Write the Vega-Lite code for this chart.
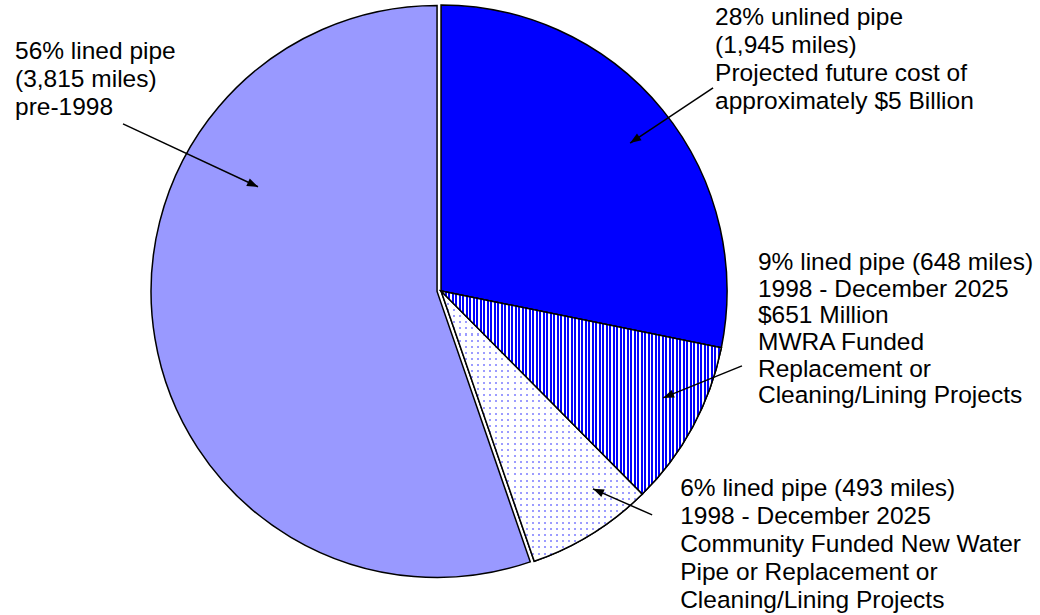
{
  "$schema": "https://vega.github.io/schema/vega-lite/v6.json",
  "width": 1040,
  "height": 615,
  "padding": 0,
  "autosize": "none",
  "background": "white",
  "config": {"view": {"stroke": null}},
  "datasets": {
    "slices": [
      {"segment": "unlined", "miles": 1945, "order": 1},
      {"segment": "mwra", "miles": 648, "order": 2},
      {"segment": "community", "miles": 493, "order": 3},
      {"segment": "pre1998", "miles": 3815, "order": 4}
    ],
    "labels": [
      {"lines": ["28% unlined pipe", "(1,945 miles)", "Projected future cost of", "approximately $5 Billion"], "x": 0.958, "y": 0.930},
      {"lines": ["56% lined pipe", "(3,815 miles)", "pre-1998"], "x": -1.4895, "y": 0.811},
      {"lines": ["6% lined pipe (493 miles)", "1998 - December 2025", "Community Funded New Water", "Pipe or Replacement or", "Cleaning/Lining Projects"], "x": 0.836, "y": -0.716}
    ],
    "labels2": [
      {"lines": ["9% lined pipe (648 miles)", "1998 - December 2025", "$651 Million", "MWRA Funded", "Replacement or", "Cleaning/Lining Projects"], "x": 1.108, "y": 0.0734}
    ],
    "arrows": [
      {"x": 0.951, "y": 0.710, "x2": 0.661, "y2": 0.517},
      {"x": -1.112, "y": 0.584, "x2": -0.640, "y2": 0.364},
      {"x": 1.052, "y": -0.262, "x2": 0.776, "y2": -0.374},
      {"x": 0.738, "y": -0.783, "x2": 0.531, "y2": -0.692}
    ]
  },
  "layer": [
    {
      "data": {"name": "slices"},
      "mark": {"type": "arc", "radius": 286, "stroke": "black", "strokeWidth": 1.5},
      "encoding": {
        "theta": {"field": "miles", "type": "quantitative", "stack": true},
        "order": {"field": "order", "type": "quantitative"},
        "x": {"datum": 0, "type": "quantitative", "scale": {"domain": [-1.542, 2.094], "nice": false, "zero": false}, "axis": null},
        "y": {"datum": 0, "type": "quantitative", "scale": {"domain": [-1.133, 1.017], "nice": false, "zero": false}, "axis": null},
        "fill": {"field": "segment", "type": "nominal", "scale": {"domain": ["unlined", "mwra", "community", "pre1998"], "range": ["#0000ff", "#0000ff", "#eeeefc", "#9999ff"]}, "legend": null},
        "fillOpacity": {"condition": {"test": "datum.segment === 'pre1998'", "value": 0}, "value": 1},
        "strokeOpacity": {"condition": {"test": "datum.segment === 'pre1998'", "value": 0}, "value": 1}
      }
    },
    {
      "data": {"name": "slices"},
      "mark": {
        "type": "arc", "radius": 286, "strokeWidth": 0,
        "fill": {
          "gradient": "linear", "x1": 0, "y1": 0, "x2": 0, "y2": 1,
          "stops": [
            {"offset": 0, "color": "#9c9cff"}, {"offset": 0.0075, "color": "#9c9cff"}, {"offset": 0.0075, "color": "#fff"}, {"offset": 0.0225, "color": "#fff"},
            {"offset": 0.0225, "color": "#9c9cff"}, {"offset": 0.03, "color": "#9c9cff"}, {"offset": 0.03, "color": "#fff"}, {"offset": 0.045, "color": "#fff"},
            {"offset": 0.045, "color": "#9c9cff"}, {"offset": 0.0525, "color": "#9c9cff"}, {"offset": 0.0525, "color": "#fff"}, {"offset": 0.0675, "color": "#fff"},
            {"offset": 0.0675, "color": "#9c9cff"}, {"offset": 0.075, "color": "#9c9cff"}, {"offset": 0.075, "color": "#fff"}, {"offset": 0.09, "color": "#fff"},
            {"offset": 0.09, "color": "#9c9cff"}, {"offset": 0.0975, "color": "#9c9cff"}, {"offset": 0.0975, "color": "#fff"}, {"offset": 0.1125, "color": "#fff"},
            {"offset": 0.1125, "color": "#9c9cff"}, {"offset": 0.12, "color": "#9c9cff"}, {"offset": 0.12, "color": "#fff"}, {"offset": 0.135, "color": "#fff"},
            {"offset": 0.135, "color": "#9c9cff"}, {"offset": 0.1425, "color": "#9c9cff"}, {"offset": 0.1425, "color": "#fff"}, {"offset": 0.1575, "color": "#fff"},
            {"offset": 0.1575, "color": "#9c9cff"}, {"offset": 0.165, "color": "#9c9cff"}, {"offset": 0.165, "color": "#fff"}, {"offset": 0.18, "color": "#fff"},
            {"offset": 0.18, "color": "#9c9cff"}, {"offset": 0.1875, "color": "#9c9cff"}, {"offset": 0.1875, "color": "#fff"}, {"offset": 0.2025, "color": "#fff"},
            {"offset": 0.2025, "color": "#9c9cff"}, {"offset": 0.21, "color": "#9c9cff"}, {"offset": 0.21, "color": "#fff"}, {"offset": 0.225, "color": "#fff"},
            {"offset": 0.225, "color": "#9c9cff"}, {"offset": 0.2325, "color": "#9c9cff"}, {"offset": 0.2325, "color": "#fff"}, {"offset": 0.2475, "color": "#fff"},
            {"offset": 0.2475, "color": "#9c9cff"}, {"offset": 0.255, "color": "#9c9cff"}, {"offset": 0.255, "color": "#fff"}, {"offset": 0.27, "color": "#fff"},
            {"offset": 0.27, "color": "#9c9cff"}, {"offset": 0.2775, "color": "#9c9cff"}, {"offset": 0.2775, "color": "#fff"}, {"offset": 0.2925, "color": "#fff"},
            {"offset": 0.2925, "color": "#9c9cff"}, {"offset": 0.3, "color": "#9c9cff"}, {"offset": 0.3, "color": "#fff"}, {"offset": 0.315, "color": "#fff"},
            {"offset": 0.315, "color": "#9c9cff"}, {"offset": 0.3225, "color": "#9c9cff"}, {"offset": 0.3225, "color": "#fff"}, {"offset": 0.3375, "color": "#fff"},
            {"offset": 0.3375, "color": "#9c9cff"}, {"offset": 0.345, "color": "#9c9cff"}, {"offset": 0.345, "color": "#fff"}, {"offset": 0.36, "color": "#fff"},
            {"offset": 0.36, "color": "#9c9cff"}, {"offset": 0.3675, "color": "#9c9cff"}, {"offset": 0.3675, "color": "#fff"}, {"offset": 0.3825, "color": "#fff"},
            {"offset": 0.3825, "color": "#9c9cff"}, {"offset": 0.39, "color": "#9c9cff"}, {"offset": 0.39, "color": "#fff"}, {"offset": 0.405, "color": "#fff"},
            {"offset": 0.405, "color": "#9c9cff"}, {"offset": 0.4125, "color": "#9c9cff"}, {"offset": 0.4125, "color": "#fff"}, {"offset": 0.4275, "color": "#fff"},
            {"offset": 0.4275, "color": "#9c9cff"}, {"offset": 0.435, "color": "#9c9cff"}, {"offset": 0.435, "color": "#fff"}, {"offset": 0.45, "color": "#fff"},
            {"offset": 0.45, "color": "#9c9cff"}, {"offset": 0.4575, "color": "#9c9cff"}, {"offset": 0.4575, "color": "#fff"}, {"offset": 0.4725, "color": "#fff"},
            {"offset": 0.4725, "color": "#9c9cff"}, {"offset": 0.48, "color": "#9c9cff"}, {"offset": 0.48, "color": "#fff"}, {"offset": 0.495, "color": "#fff"},
            {"offset": 0.495, "color": "#9c9cff"}, {"offset": 0.5025, "color": "#9c9cff"}, {"offset": 0.5025, "color": "#fff"}, {"offset": 0.5175, "color": "#fff"},
            {"offset": 0.5175, "color": "#9c9cff"}, {"offset": 0.525, "color": "#9c9cff"}, {"offset": 0.525, "color": "#fff"}, {"offset": 0.54, "color": "#fff"},
            {"offset": 0.54, "color": "#9c9cff"}, {"offset": 0.5475, "color": "#9c9cff"}, {"offset": 0.5475, "color": "#fff"}, {"offset": 0.5625, "color": "#fff"},
            {"offset": 0.5625, "color": "#9c9cff"}, {"offset": 0.57, "color": "#9c9cff"}, {"offset": 0.57, "color": "#fff"}, {"offset": 0.585, "color": "#fff"},
            {"offset": 0.585, "color": "#9c9cff"}, {"offset": 0.5925, "color": "#9c9cff"}, {"offset": 0.5925, "color": "#fff"}, {"offset": 0.6075, "color": "#fff"},
            {"offset": 0.6075, "color": "#9c9cff"}, {"offset": 0.615, "color": "#9c9cff"}, {"offset": 0.615, "color": "#fff"}, {"offset": 0.63, "color": "#fff"},
            {"offset": 0.63, "color": "#9c9cff"}, {"offset": 0.6375, "color": "#9c9cff"}, {"offset": 0.6375, "color": "#fff"}, {"offset": 0.6525, "color": "#fff"},
            {"offset": 0.6525, "color": "#9c9cff"}, {"offset": 0.66, "color": "#9c9cff"}, {"offset": 0.66, "color": "#fff"}, {"offset": 0.675, "color": "#fff"},
            {"offset": 0.675, "color": "#9c9cff"}, {"offset": 0.6825, "color": "#9c9cff"}, {"offset": 0.6825, "color": "#fff"}, {"offset": 0.6975, "color": "#fff"},
            {"offset": 0.6975, "color": "#9c9cff"}, {"offset": 0.705, "color": "#9c9cff"}, {"offset": 0.705, "color": "#fff"}, {"offset": 0.72, "color": "#fff"},
            {"offset": 0.72, "color": "#9c9cff"}, {"offset": 0.7275, "color": "#9c9cff"}, {"offset": 0.7275, "color": "#fff"}, {"offset": 0.7425, "color": "#fff"},
            {"offset": 0.7425, "color": "#9c9cff"}, {"offset": 0.75, "color": "#9c9cff"}, {"offset": 0.75, "color": "#fff"}, {"offset": 0.765, "color": "#fff"},
            {"offset": 0.765, "color": "#9c9cff"}, {"offset": 0.7725, "color": "#9c9cff"}, {"offset": 0.7725, "color": "#fff"}, {"offset": 0.7875, "color": "#fff"},
            {"offset": 0.7875, "color": "#9c9cff"}, {"offset": 0.795, "color": "#9c9cff"}, {"offset": 0.795, "color": "#fff"}, {"offset": 0.81, "color": "#fff"},
            {"offset": 0.81, "color": "#9c9cff"}, {"offset": 0.8175, "color": "#9c9cff"}, {"offset": 0.8175, "color": "#fff"}, {"offset": 0.8325, "color": "#fff"},
            {"offset": 0.8325, "color": "#9c9cff"}, {"offset": 0.84, "color": "#9c9cff"}, {"offset": 0.84, "color": "#fff"}, {"offset": 0.855, "color": "#fff"},
            {"offset": 0.855, "color": "#9c9cff"}, {"offset": 0.8625, "color": "#9c9cff"}, {"offset": 0.8625, "color": "#fff"}, {"offset": 0.8775, "color": "#fff"},
            {"offset": 0.8775, "color": "#9c9cff"}, {"offset": 0.885, "color": "#9c9cff"}, {"offset": 0.885, "color": "#fff"}, {"offset": 0.9, "color": "#fff"},
            {"offset": 0.9, "color": "#9c9cff"}, {"offset": 0.9075, "color": "#9c9cff"}, {"offset": 0.9075, "color": "#fff"}, {"offset": 0.9225, "color": "#fff"},
            {"offset": 0.9225, "color": "#9c9cff"}, {"offset": 0.93, "color": "#9c9cff"}, {"offset": 0.93, "color": "#fff"}, {"offset": 0.945, "color": "#fff"},
            {"offset": 0.945, "color": "#9c9cff"}, {"offset": 0.9525, "color": "#9c9cff"}, {"offset": 0.9525, "color": "#fff"}, {"offset": 0.9675, "color": "#fff"},
            {"offset": 0.9675, "color": "#9c9cff"}, {"offset": 0.975, "color": "#9c9cff"}, {"offset": 0.975, "color": "#fff"}, {"offset": 0.99, "color": "#fff"},
            {"offset": 0.99, "color": "#9c9cff"}, {"offset": 0.9975, "color": "#9c9cff"}, {"offset": 0.9975, "color": "#fff"}, {"offset": 1, "color": "#fff"}
          ]
        }
      },
      "encoding": {
        "theta": {"field": "miles", "type": "quantitative", "stack": true},
        "order": {"field": "order", "type": "quantitative"},
        "x": {"datum": 0, "type": "quantitative", "scale": {"domain": [-1.542, 2.094], "nice": false, "zero": false}, "axis": null},
        "y": {"datum": 0, "type": "quantitative", "scale": {"domain": [-1.133, 1.017], "nice": false, "zero": false}, "axis": null},
        "fillOpacity": {"condition": {"test": "datum.segment === 'community'", "value": 1}, "value": 0}
      }
    },
    {
      "data": {"name": "slices"},
      "mark": {
        "type": "arc", "radius": 286, "stroke": "black", "strokeWidth": 1.5,
        "fill": {
          "gradient": "linear", "x1": 0, "y1": 0, "x2": 1, "y2": 0,
          "stops": [
            {"offset": 0, "color": "rgba(255,255,255,0)"}, {"offset": 0.01, "color": "rgba(255,255,255,0)"}, {"offset": 0.01, "color": "#fff"}, {"offset": 0.03, "color": "#fff"},
            {"offset": 0.03, "color": "rgba(255,255,255,0)"}, {"offset": 0.04, "color": "rgba(255,255,255,0)"}, {"offset": 0.04, "color": "#fff"}, {"offset": 0.06, "color": "#fff"},
            {"offset": 0.06, "color": "rgba(255,255,255,0)"}, {"offset": 0.07, "color": "rgba(255,255,255,0)"}, {"offset": 0.07, "color": "#fff"}, {"offset": 0.09, "color": "#fff"},
            {"offset": 0.09, "color": "rgba(255,255,255,0)"}, {"offset": 0.1, "color": "rgba(255,255,255,0)"}, {"offset": 0.1, "color": "#fff"}, {"offset": 0.12, "color": "#fff"},
            {"offset": 0.12, "color": "rgba(255,255,255,0)"}, {"offset": 0.13, "color": "rgba(255,255,255,0)"}, {"offset": 0.13, "color": "#fff"}, {"offset": 0.15, "color": "#fff"},
            {"offset": 0.15, "color": "rgba(255,255,255,0)"}, {"offset": 0.16, "color": "rgba(255,255,255,0)"}, {"offset": 0.16, "color": "#fff"}, {"offset": 0.18, "color": "#fff"},
            {"offset": 0.18, "color": "rgba(255,255,255,0)"}, {"offset": 0.19, "color": "rgba(255,255,255,0)"}, {"offset": 0.19, "color": "#fff"}, {"offset": 0.21, "color": "#fff"},
            {"offset": 0.21, "color": "rgba(255,255,255,0)"}, {"offset": 0.22, "color": "rgba(255,255,255,0)"}, {"offset": 0.22, "color": "#fff"}, {"offset": 0.24, "color": "#fff"},
            {"offset": 0.24, "color": "rgba(255,255,255,0)"}, {"offset": 0.25, "color": "rgba(255,255,255,0)"}, {"offset": 0.25, "color": "#fff"}, {"offset": 0.27, "color": "#fff"},
            {"offset": 0.27, "color": "rgba(255,255,255,0)"}, {"offset": 0.28, "color": "rgba(255,255,255,0)"}, {"offset": 0.28, "color": "#fff"}, {"offset": 0.3, "color": "#fff"},
            {"offset": 0.3, "color": "rgba(255,255,255,0)"}, {"offset": 0.31, "color": "rgba(255,255,255,0)"}, {"offset": 0.31, "color": "#fff"}, {"offset": 0.33, "color": "#fff"},
            {"offset": 0.33, "color": "rgba(255,255,255,0)"}, {"offset": 0.34, "color": "rgba(255,255,255,0)"}, {"offset": 0.34, "color": "#fff"}, {"offset": 0.36, "color": "#fff"},
            {"offset": 0.36, "color": "rgba(255,255,255,0)"}, {"offset": 0.37, "color": "rgba(255,255,255,0)"}, {"offset": 0.37, "color": "#fff"}, {"offset": 0.39, "color": "#fff"},
            {"offset": 0.39, "color": "rgba(255,255,255,0)"}, {"offset": 0.4, "color": "rgba(255,255,255,0)"}, {"offset": 0.4, "color": "#fff"}, {"offset": 0.42, "color": "#fff"},
            {"offset": 0.42, "color": "rgba(255,255,255,0)"}, {"offset": 0.43, "color": "rgba(255,255,255,0)"}, {"offset": 0.43, "color": "#fff"}, {"offset": 0.45, "color": "#fff"},
            {"offset": 0.45, "color": "rgba(255,255,255,0)"}, {"offset": 0.46, "color": "rgba(255,255,255,0)"}, {"offset": 0.46, "color": "#fff"}, {"offset": 0.48, "color": "#fff"},
            {"offset": 0.48, "color": "rgba(255,255,255,0)"}, {"offset": 0.49, "color": "rgba(255,255,255,0)"}, {"offset": 0.49, "color": "#fff"}, {"offset": 0.51, "color": "#fff"},
            {"offset": 0.51, "color": "rgba(255,255,255,0)"}, {"offset": 0.52, "color": "rgba(255,255,255,0)"}, {"offset": 0.52, "color": "#fff"}, {"offset": 0.54, "color": "#fff"},
            {"offset": 0.54, "color": "rgba(255,255,255,0)"}, {"offset": 0.55, "color": "rgba(255,255,255,0)"}, {"offset": 0.55, "color": "#fff"}, {"offset": 0.57, "color": "#fff"},
            {"offset": 0.57, "color": "rgba(255,255,255,0)"}, {"offset": 0.58, "color": "rgba(255,255,255,0)"}, {"offset": 0.58, "color": "#fff"}, {"offset": 0.6, "color": "#fff"},
            {"offset": 0.6, "color": "rgba(255,255,255,0)"}, {"offset": 0.61, "color": "rgba(255,255,255,0)"}, {"offset": 0.61, "color": "#fff"}, {"offset": 0.63, "color": "#fff"},
            {"offset": 0.63, "color": "rgba(255,255,255,0)"}, {"offset": 0.64, "color": "rgba(255,255,255,0)"}, {"offset": 0.64, "color": "#fff"}, {"offset": 0.66, "color": "#fff"},
            {"offset": 0.66, "color": "rgba(255,255,255,0)"}, {"offset": 0.67, "color": "rgba(255,255,255,0)"}, {"offset": 0.67, "color": "#fff"}, {"offset": 0.69, "color": "#fff"},
            {"offset": 0.69, "color": "rgba(255,255,255,0)"}, {"offset": 0.7, "color": "rgba(255,255,255,0)"}, {"offset": 0.7, "color": "#fff"}, {"offset": 0.72, "color": "#fff"},
            {"offset": 0.72, "color": "rgba(255,255,255,0)"}, {"offset": 0.73, "color": "rgba(255,255,255,0)"}, {"offset": 0.73, "color": "#fff"}, {"offset": 0.75, "color": "#fff"},
            {"offset": 0.75, "color": "rgba(255,255,255,0)"}, {"offset": 0.76, "color": "rgba(255,255,255,0)"}, {"offset": 0.76, "color": "#fff"}, {"offset": 0.78, "color": "#fff"},
            {"offset": 0.78, "color": "rgba(255,255,255,0)"}, {"offset": 0.79, "color": "rgba(255,255,255,0)"}, {"offset": 0.79, "color": "#fff"}, {"offset": 0.81, "color": "#fff"},
            {"offset": 0.81, "color": "rgba(255,255,255,0)"}, {"offset": 0.82, "color": "rgba(255,255,255,0)"}, {"offset": 0.82, "color": "#fff"}, {"offset": 0.84, "color": "#fff"},
            {"offset": 0.84, "color": "rgba(255,255,255,0)"}, {"offset": 0.85, "color": "rgba(255,255,255,0)"}, {"offset": 0.85, "color": "#fff"}, {"offset": 0.87, "color": "#fff"},
            {"offset": 0.87, "color": "rgba(255,255,255,0)"}, {"offset": 0.88, "color": "rgba(255,255,255,0)"}, {"offset": 0.88, "color": "#fff"}, {"offset": 0.9, "color": "#fff"},
            {"offset": 0.9, "color": "rgba(255,255,255,0)"}, {"offset": 0.91, "color": "rgba(255,255,255,0)"}, {"offset": 0.91, "color": "#fff"}, {"offset": 0.93, "color": "#fff"},
            {"offset": 0.93, "color": "rgba(255,255,255,0)"}, {"offset": 0.94, "color": "rgba(255,255,255,0)"}, {"offset": 0.94, "color": "#fff"}, {"offset": 0.96, "color": "#fff"},
            {"offset": 0.96, "color": "rgba(255,255,255,0)"}, {"offset": 0.97, "color": "rgba(255,255,255,0)"}, {"offset": 0.97, "color": "#fff"}, {"offset": 0.99, "color": "#fff"},
            {"offset": 0.99, "color": "rgba(255,255,255,0)"}, {"offset": 1, "color": "rgba(255,255,255,0)"}
          ]
        }
      },
      "encoding": {
        "theta": {"field": "miles", "type": "quantitative", "stack": true},
        "order": {"field": "order", "type": "quantitative"},
        "x": {"datum": 0, "type": "quantitative", "scale": {"domain": [-1.542, 2.094], "nice": false, "zero": false}, "axis": null},
        "y": {"datum": 0, "type": "quantitative", "scale": {"domain": [-1.133, 1.017], "nice": false, "zero": false}, "axis": null},
        "fillOpacity": {"condition": {"test": "datum.segment === 'community'", "value": 1}, "value": 0},
        "strokeOpacity": {"condition": {"test": "datum.segment === 'community'", "value": 1}, "value": 0}
      }
    },
    {
      "data": {"name": "slices"},
      "mark": {
        "type": "arc", "radius": 286, "stroke": "black", "strokeWidth": 1.5,
        "fill": {
          "gradient": "linear", "x1": 0, "y1": 0, "x2": 1, "y2": 0,
          "stops": [
            {"offset": 0, "color": "#00f"}, {"offset": 0.0075, "color": "#00f"}, {"offset": 0.0075, "color": "#fff"}, {"offset": 0.0125, "color": "#fff"}, {"offset": 0.0125, "color": "#00f"}, {"offset": 0.02, "color": "#00f"}, {"offset": 0.02, "color": "#fff"}, {"offset": 0.025, "color": "#fff"}, {"offset": 0.025, "color": "#00f"}, {"offset": 0.0325, "color": "#00f"}, {"offset": 0.0325, "color": "#fff"}, {"offset": 0.0375, "color": "#fff"}, {"offset": 0.0375, "color": "#00f"}, {"offset": 0.045, "color": "#00f"}, {"offset": 0.045, "color": "#fff"}, {"offset": 0.05, "color": "#fff"}, {"offset": 0.05, "color": "#00f"}, {"offset": 0.0575, "color": "#00f"}, {"offset": 0.0575, "color": "#fff"}, {"offset": 0.0625, "color": "#fff"}, {"offset": 0.0625, "color": "#00f"}, {"offset": 0.07, "color": "#00f"}, {"offset": 0.07, "color": "#fff"}, {"offset": 0.075, "color": "#fff"}, {"offset": 0.075, "color": "#00f"}, {"offset": 0.0825, "color": "#00f"}, {"offset": 0.0825, "color": "#fff"}, {"offset": 0.0875, "color": "#fff"}, {"offset": 0.0875, "color": "#00f"}, {"offset": 0.095, "color": "#00f"}, {"offset": 0.095, "color": "#fff"}, {"offset": 0.1, "color": "#fff"},
            {"offset": 0.1, "color": "#00f"}, {"offset": 0.1075, "color": "#00f"}, {"offset": 0.1075, "color": "#fff"}, {"offset": 0.1125, "color": "#fff"}, {"offset": 0.1125, "color": "#00f"}, {"offset": 0.12, "color": "#00f"}, {"offset": 0.12, "color": "#fff"}, {"offset": 0.125, "color": "#fff"}, {"offset": 0.125, "color": "#00f"}, {"offset": 0.1325, "color": "#00f"}, {"offset": 0.1325, "color": "#fff"}, {"offset": 0.1375, "color": "#fff"}, {"offset": 0.1375, "color": "#00f"}, {"offset": 0.145, "color": "#00f"}, {"offset": 0.145, "color": "#fff"}, {"offset": 0.15, "color": "#fff"}, {"offset": 0.15, "color": "#00f"}, {"offset": 0.1575, "color": "#00f"}, {"offset": 0.1575, "color": "#fff"}, {"offset": 0.1625, "color": "#fff"}, {"offset": 0.1625, "color": "#00f"}, {"offset": 0.17, "color": "#00f"}, {"offset": 0.17, "color": "#fff"}, {"offset": 0.175, "color": "#fff"}, {"offset": 0.175, "color": "#00f"}, {"offset": 0.1825, "color": "#00f"}, {"offset": 0.1825, "color": "#fff"}, {"offset": 0.1875, "color": "#fff"}, {"offset": 0.1875, "color": "#00f"}, {"offset": 0.195, "color": "#00f"}, {"offset": 0.195, "color": "#fff"}, {"offset": 0.2, "color": "#fff"},
            {"offset": 0.2, "color": "#00f"}, {"offset": 0.2075, "color": "#00f"}, {"offset": 0.2075, "color": "#fff"}, {"offset": 0.2125, "color": "#fff"}, {"offset": 0.2125, "color": "#00f"}, {"offset": 0.22, "color": "#00f"}, {"offset": 0.22, "color": "#fff"}, {"offset": 0.225, "color": "#fff"}, {"offset": 0.225, "color": "#00f"}, {"offset": 0.2325, "color": "#00f"}, {"offset": 0.2325, "color": "#fff"}, {"offset": 0.2375, "color": "#fff"}, {"offset": 0.2375, "color": "#00f"}, {"offset": 0.245, "color": "#00f"}, {"offset": 0.245, "color": "#fff"}, {"offset": 0.25, "color": "#fff"}, {"offset": 0.25, "color": "#00f"}, {"offset": 0.2575, "color": "#00f"}, {"offset": 0.2575, "color": "#fff"}, {"offset": 0.2625, "color": "#fff"}, {"offset": 0.2625, "color": "#00f"}, {"offset": 0.27, "color": "#00f"}, {"offset": 0.27, "color": "#fff"}, {"offset": 0.275, "color": "#fff"}, {"offset": 0.275, "color": "#00f"}, {"offset": 0.2825, "color": "#00f"}, {"offset": 0.2825, "color": "#fff"}, {"offset": 0.2875, "color": "#fff"}, {"offset": 0.2875, "color": "#00f"}, {"offset": 0.295, "color": "#00f"}, {"offset": 0.295, "color": "#fff"}, {"offset": 0.3, "color": "#fff"},
            {"offset": 0.3, "color": "#00f"}, {"offset": 0.3075, "color": "#00f"}, {"offset": 0.3075, "color": "#fff"}, {"offset": 0.3125, "color": "#fff"}, {"offset": 0.3125, "color": "#00f"}, {"offset": 0.32, "color": "#00f"}, {"offset": 0.32, "color": "#fff"}, {"offset": 0.325, "color": "#fff"}, {"offset": 0.325, "color": "#00f"}, {"offset": 0.3325, "color": "#00f"}, {"offset": 0.3325, "color": "#fff"}, {"offset": 0.3375, "color": "#fff"}, {"offset": 0.3375, "color": "#00f"}, {"offset": 0.345, "color": "#00f"}, {"offset": 0.345, "color": "#fff"}, {"offset": 0.35, "color": "#fff"}, {"offset": 0.35, "color": "#00f"}, {"offset": 0.3575, "color": "#00f"}, {"offset": 0.3575, "color": "#fff"}, {"offset": 0.3625, "color": "#fff"}, {"offset": 0.3625, "color": "#00f"}, {"offset": 0.37, "color": "#00f"}, {"offset": 0.37, "color": "#fff"}, {"offset": 0.375, "color": "#fff"}, {"offset": 0.375, "color": "#00f"}, {"offset": 0.3825, "color": "#00f"}, {"offset": 0.3825, "color": "#fff"}, {"offset": 0.3875, "color": "#fff"}, {"offset": 0.3875, "color": "#00f"}, {"offset": 0.395, "color": "#00f"}, {"offset": 0.395, "color": "#fff"}, {"offset": 0.4, "color": "#fff"},
            {"offset": 0.4, "color": "#00f"}, {"offset": 0.4075, "color": "#00f"}, {"offset": 0.4075, "color": "#fff"}, {"offset": 0.4125, "color": "#fff"}, {"offset": 0.4125, "color": "#00f"}, {"offset": 0.42, "color": "#00f"}, {"offset": 0.42, "color": "#fff"}, {"offset": 0.425, "color": "#fff"}, {"offset": 0.425, "color": "#00f"}, {"offset": 0.4325, "color": "#00f"}, {"offset": 0.4325, "color": "#fff"}, {"offset": 0.4375, "color": "#fff"}, {"offset": 0.4375, "color": "#00f"}, {"offset": 0.445, "color": "#00f"}, {"offset": 0.445, "color": "#fff"}, {"offset": 0.45, "color": "#fff"}, {"offset": 0.45, "color": "#00f"}, {"offset": 0.4575, "color": "#00f"}, {"offset": 0.4575, "color": "#fff"}, {"offset": 0.4625, "color": "#fff"}, {"offset": 0.4625, "color": "#00f"}, {"offset": 0.47, "color": "#00f"}, {"offset": 0.47, "color": "#fff"}, {"offset": 0.475, "color": "#fff"}, {"offset": 0.475, "color": "#00f"}, {"offset": 0.4825, "color": "#00f"}, {"offset": 0.4825, "color": "#fff"}, {"offset": 0.4875, "color": "#fff"}, {"offset": 0.4875, "color": "#00f"}, {"offset": 0.495, "color": "#00f"}, {"offset": 0.495, "color": "#fff"}, {"offset": 0.5, "color": "#fff"},
            {"offset": 0.5, "color": "#00f"}, {"offset": 0.5075, "color": "#00f"}, {"offset": 0.5075, "color": "#fff"}, {"offset": 0.5125, "color": "#fff"}, {"offset": 0.5125, "color": "#00f"}, {"offset": 0.52, "color": "#00f"}, {"offset": 0.52, "color": "#fff"}, {"offset": 0.525, "color": "#fff"}, {"offset": 0.525, "color": "#00f"}, {"offset": 0.5325, "color": "#00f"}, {"offset": 0.5325, "color": "#fff"}, {"offset": 0.5375, "color": "#fff"}, {"offset": 0.5375, "color": "#00f"}, {"offset": 0.545, "color": "#00f"}, {"offset": 0.545, "color": "#fff"}, {"offset": 0.55, "color": "#fff"}, {"offset": 0.55, "color": "#00f"}, {"offset": 0.5575, "color": "#00f"}, {"offset": 0.5575, "color": "#fff"}, {"offset": 0.5625, "color": "#fff"}, {"offset": 0.5625, "color": "#00f"}, {"offset": 0.57, "color": "#00f"}, {"offset": 0.57, "color": "#fff"}, {"offset": 0.575, "color": "#fff"}, {"offset": 0.575, "color": "#00f"}, {"offset": 0.5825, "color": "#00f"}, {"offset": 0.5825, "color": "#fff"}, {"offset": 0.5875, "color": "#fff"}, {"offset": 0.5875, "color": "#00f"}, {"offset": 0.595, "color": "#00f"}, {"offset": 0.595, "color": "#fff"}, {"offset": 0.6, "color": "#fff"},
            {"offset": 0.6, "color": "#00f"}, {"offset": 0.6075, "color": "#00f"}, {"offset": 0.6075, "color": "#fff"}, {"offset": 0.6125, "color": "#fff"}, {"offset": 0.6125, "color": "#00f"}, {"offset": 0.62, "color": "#00f"}, {"offset": 0.62, "color": "#fff"}, {"offset": 0.625, "color": "#fff"}, {"offset": 0.625, "color": "#00f"}, {"offset": 0.6325, "color": "#00f"}, {"offset": 0.6325, "color": "#fff"}, {"offset": 0.6375, "color": "#fff"}, {"offset": 0.6375, "color": "#00f"}, {"offset": 0.645, "color": "#00f"}, {"offset": 0.645, "color": "#fff"}, {"offset": 0.65, "color": "#fff"}, {"offset": 0.65, "color": "#00f"}, {"offset": 0.6575, "color": "#00f"}, {"offset": 0.6575, "color": "#fff"}, {"offset": 0.6625, "color": "#fff"}, {"offset": 0.6625, "color": "#00f"}, {"offset": 0.67, "color": "#00f"}, {"offset": 0.67, "color": "#fff"}, {"offset": 0.675, "color": "#fff"}, {"offset": 0.675, "color": "#00f"}, {"offset": 0.6825, "color": "#00f"}, {"offset": 0.6825, "color": "#fff"}, {"offset": 0.6875, "color": "#fff"}, {"offset": 0.6875, "color": "#00f"}, {"offset": 0.695, "color": "#00f"}, {"offset": 0.695, "color": "#fff"}, {"offset": 0.7, "color": "#fff"},
            {"offset": 0.7, "color": "#00f"}, {"offset": 0.7075, "color": "#00f"}, {"offset": 0.7075, "color": "#fff"}, {"offset": 0.7125, "color": "#fff"}, {"offset": 0.7125, "color": "#00f"}, {"offset": 0.72, "color": "#00f"}, {"offset": 0.72, "color": "#fff"}, {"offset": 0.725, "color": "#fff"}, {"offset": 0.725, "color": "#00f"}, {"offset": 0.7325, "color": "#00f"}, {"offset": 0.7325, "color": "#fff"}, {"offset": 0.7375, "color": "#fff"}, {"offset": 0.7375, "color": "#00f"}, {"offset": 0.745, "color": "#00f"}, {"offset": 0.745, "color": "#fff"}, {"offset": 0.75, "color": "#fff"}, {"offset": 0.75, "color": "#00f"}, {"offset": 0.7575, "color": "#00f"}, {"offset": 0.7575, "color": "#fff"}, {"offset": 0.7625, "color": "#fff"}, {"offset": 0.7625, "color": "#00f"}, {"offset": 0.77, "color": "#00f"}, {"offset": 0.77, "color": "#fff"}, {"offset": 0.775, "color": "#fff"}, {"offset": 0.775, "color": "#00f"}, {"offset": 0.7825, "color": "#00f"}, {"offset": 0.7825, "color": "#fff"}, {"offset": 0.7875, "color": "#fff"}, {"offset": 0.7875, "color": "#00f"}, {"offset": 0.795, "color": "#00f"}, {"offset": 0.795, "color": "#fff"}, {"offset": 0.8, "color": "#fff"},
            {"offset": 0.8, "color": "#00f"}, {"offset": 0.8075, "color": "#00f"}, {"offset": 0.8075, "color": "#fff"}, {"offset": 0.8125, "color": "#fff"}, {"offset": 0.8125, "color": "#00f"}, {"offset": 0.82, "color": "#00f"}, {"offset": 0.82, "color": "#fff"}, {"offset": 0.825, "color": "#fff"}, {"offset": 0.825, "color": "#00f"}, {"offset": 0.8325, "color": "#00f"}, {"offset": 0.8325, "color": "#fff"}, {"offset": 0.8375, "color": "#fff"}, {"offset": 0.8375, "color": "#00f"}, {"offset": 0.845, "color": "#00f"}, {"offset": 0.845, "color": "#fff"}, {"offset": 0.85, "color": "#fff"}, {"offset": 0.85, "color": "#00f"}, {"offset": 0.8575, "color": "#00f"}, {"offset": 0.8575, "color": "#fff"}, {"offset": 0.8625, "color": "#fff"}, {"offset": 0.8625, "color": "#00f"}, {"offset": 0.87, "color": "#00f"}, {"offset": 0.87, "color": "#fff"}, {"offset": 0.875, "color": "#fff"}, {"offset": 0.875, "color": "#00f"}, {"offset": 0.8825, "color": "#00f"}, {"offset": 0.8825, "color": "#fff"}, {"offset": 0.8875, "color": "#fff"}, {"offset": 0.8875, "color": "#00f"}, {"offset": 0.895, "color": "#00f"}, {"offset": 0.895, "color": "#fff"}, {"offset": 0.9, "color": "#fff"},
            {"offset": 0.9, "color": "#00f"}, {"offset": 0.9075, "color": "#00f"}, {"offset": 0.9075, "color": "#fff"}, {"offset": 0.9125, "color": "#fff"}, {"offset": 0.9125, "color": "#00f"}, {"offset": 0.92, "color": "#00f"}, {"offset": 0.92, "color": "#fff"}, {"offset": 0.925, "color": "#fff"}, {"offset": 0.925, "color": "#00f"}, {"offset": 0.9325, "color": "#00f"}, {"offset": 0.9325, "color": "#fff"}, {"offset": 0.9375, "color": "#fff"}, {"offset": 0.9375, "color": "#00f"}, {"offset": 0.945, "color": "#00f"}, {"offset": 0.945, "color": "#fff"}, {"offset": 0.95, "color": "#fff"}, {"offset": 0.95, "color": "#00f"}, {"offset": 0.9575, "color": "#00f"}, {"offset": 0.9575, "color": "#fff"}, {"offset": 0.9625, "color": "#fff"}, {"offset": 0.9625, "color": "#00f"}, {"offset": 0.97, "color": "#00f"}, {"offset": 0.97, "color": "#fff"}, {"offset": 0.975, "color": "#fff"}, {"offset": 0.975, "color": "#00f"}, {"offset": 0.9825, "color": "#00f"}, {"offset": 0.9825, "color": "#fff"}, {"offset": 0.9875, "color": "#fff"}, {"offset": 0.9875, "color": "#00f"}, {"offset": 0.995, "color": "#00f"}, {"offset": 0.995, "color": "#fff"}, {"offset": 1, "color": "#fff"}
          ]
        }
      },
      "encoding": {
        "theta": {"field": "miles", "type": "quantitative", "stack": true},
        "order": {"field": "order", "type": "quantitative"},
        "x": {"datum": 0, "type": "quantitative", "scale": {"domain": [-1.542, 2.094], "nice": false, "zero": false}, "axis": null},
        "y": {"datum": 0, "type": "quantitative", "scale": {"domain": [-1.133, 1.017], "nice": false, "zero": false}, "axis": null},
        "fillOpacity": {"condition": {"test": "datum.segment === 'mwra'", "value": 1}, "value": 0},
        "strokeOpacity": {"condition": {"test": "datum.segment === 'mwra'", "value": 1}, "value": 0}
      }
    },
    {
      "data": {"name": "slices"},
      "mark": {"type": "arc", "radius": 286, "stroke": "black", "strokeWidth": 1.5, "fill": "#9999ff"},
      "encoding": {
        "theta": {"field": "miles", "type": "quantitative", "stack": true},
        "order": {"field": "order", "type": "quantitative"},
        "x": {"datum": -0.014, "type": "quantitative", "scale": {"domain": [-1.542, 2.094], "nice": false, "zero": false}, "axis": null},
        "y": {"datum": -0.002, "type": "quantitative", "scale": {"domain": [-1.133, 1.017], "nice": false, "zero": false}, "axis": null},
        "fillOpacity": {"condition": {"test": "datum.segment === 'pre1998'", "value": 1}, "value": 0},
        "strokeOpacity": {"condition": {"test": "datum.segment === 'pre1998'", "value": 1}, "value": 0}
      }
    },
    {
      "data": {"name": "labels"},
      "mark": {"type": "text", "font": "Liberation Sans", "fontSize": 24.5, "lineHeight": 28, "align": "left", "baseline": "alphabetic", "color": "black"},
      "encoding": {
        "x": {"field": "x", "type": "quantitative", "scale": {"domain": [-1.542, 2.094], "nice": false, "zero": false}, "axis": null},
        "y": {"field": "y", "type": "quantitative", "scale": {"domain": [-1.133, 1.017], "nice": false, "zero": false}, "axis": null},
        "text": {"field": "lines"}
      }
    },
    {
      "data": {"name": "labels2"},
      "mark": {"type": "text", "font": "Liberation Sans", "fontSize": 24.5, "lineHeight": 26.7, "align": "left", "baseline": "alphabetic", "color": "black"},
      "encoding": {
        "x": {"field": "x", "type": "quantitative", "scale": {"domain": [-1.542, 2.094], "nice": false, "zero": false}, "axis": null},
        "y": {"field": "y", "type": "quantitative", "scale": {"domain": [-1.133, 1.017], "nice": false, "zero": false}, "axis": null},
        "text": {"field": "lines"}
      }
    },
    {
      "data": {"name": "arrows"},
      "mark": {"type": "rule", "color": "black", "strokeWidth": 1.5},
      "encoding": {
        "x": {"field": "x", "type": "quantitative", "scale": {"domain": [-1.542, 2.094], "nice": false, "zero": false}, "axis": null},
        "y": {"field": "y", "type": "quantitative", "scale": {"domain": [-1.133, 1.017], "nice": false, "zero": false}, "axis": null},
        "x2": {"field": "x2"},
        "y2": {"field": "y2"}
      }
    },
    {
      "data": {"name": "arrows"},
      "transform": [{"calculate": "atan2(datum.x2 - datum.x, datum.y2 - datum.y) * 180 / PI", "as": "angle"}],
      "mark": {"type": "point", "shape": "M0,0L0.75,2L-0.75,2Z", "filled": true, "color": "black", "opacity": 1, "size": 121, "strokeWidth": 0},
      "encoding": {
        "x": {"field": "x2", "type": "quantitative", "scale": {"domain": [-1.542, 2.094], "nice": false, "zero": false}, "axis": null},
        "y": {"field": "y2", "type": "quantitative", "scale": {"domain": [-1.133, 1.017], "nice": false, "zero": false}, "axis": null},
        "angle": {"field": "angle", "type": "quantitative", "scale": null}
      }
    }
  ]
}
